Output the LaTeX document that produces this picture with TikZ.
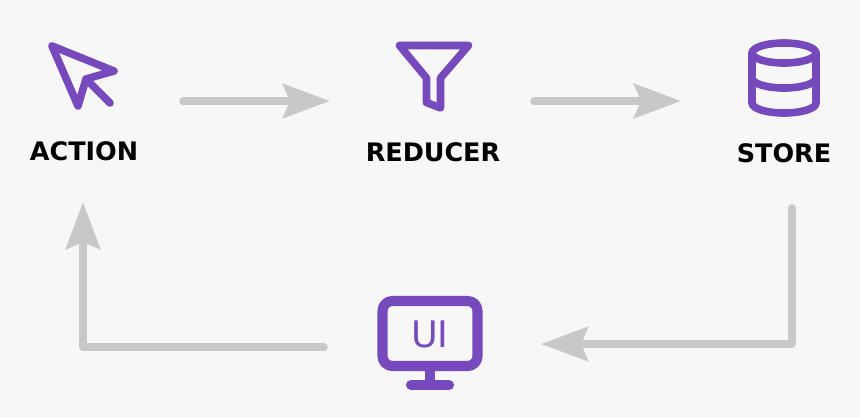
\documentclass[tikz,border=0pt]{standalone}
\usepackage{fontspec}
\setmainfont{DejaVu Sans}
\usetikzlibrary{arrows.meta}
\definecolor{reduxpurple}{HTML}{764ABC}
\definecolor{flowgray}{HTML}{C8C8C8}
\definecolor{pagebg}{HTML}{F7F7F7}
\tikzset{
  icon/.style={draw=reduxpurple, line width=5.4pt, line join=round, line cap=round},
  flow/.style={draw=flowgray, line width=5.4pt, line cap=round, line join=round,
    -{Stealth[length=33.4pt, width=24.2pt, inset=5pt]}},
  caption/.style={font=\fontsize{18.1}{20}\selectfont\bfseries, text=black, inner sep=0pt}
}
\begin{document}
\begin{tikzpicture}[x=0.025cm, y=-0.025cm]
        \useasboundingbox[fill=pagebg] (0, 0) rectangle (860, 417);

        % Action
        \draw[icon] (52, 46) -- (114, 71) -- (86, 79) -- (78, 106) -- cycle;
        \draw[icon] (86, 79) -- (110, 103);
        \node[caption] (action) at (84, 151) {ACTION};

        % Reducer
        \draw[icon] (399.5, 45.5) -- (468.5, 45.5) -- (440.5, 78) -- (440.5, 108) -- (426.5, 102.5) -- (426.5, 78) -- cycle;
        \node[caption] (reducer) at (433, 152) {REDUCER};

        % Store
        \draw[icon] (784, 53) circle [x radius=32, y radius=10];
        \draw[icon] (752, 53) -- (752, 103) arc (180:0:32 and 10) -- (816, 53);
        \draw[icon] (752, 78) arc (180:0:32 and 10);
        \node[caption] (store) at (784, 153) {STORE};

        % UI
        \draw[icon, line width=7.2pt, rounded corners=7] (382.5, 301) rectangle (477.5, 366);
        \draw[icon, line width=7.2pt, line cap=butt] (430, 366) -- (430, 385);
        \draw[icon, line width=7.2pt] (411, 385) -- (449, 385);
        \node[text=reduxpurple, font=\fontsize{26}{27}\selectfont, inner sep=0pt] (ui) at (430, 334) {UI};

        % Arrows
        \coordinate (actionout) at (183, 101);
        \coordinate (reducerin) at (330, 101);
        \coordinate (reducerout) at (534, 101);
        \coordinate (storein) at (681, 101);
        \coordinate (storeout) at (792, 208);
        \coordinate (uiin) at (541, 344);
        \coordinate (uiout) at (324, 347);
        \coordinate (actionin) at (83, 202);

        \draw[flow] (actionout) -- (reducerin);
        \draw[flow] (reducerout) -- (storein);
        \draw[flow] (storeout) -- (792, 344) -- (uiin);
        \draw[flow] (uiout) -- (83, 347) -- (actionin);
    \end{tikzpicture}
\end{document}
